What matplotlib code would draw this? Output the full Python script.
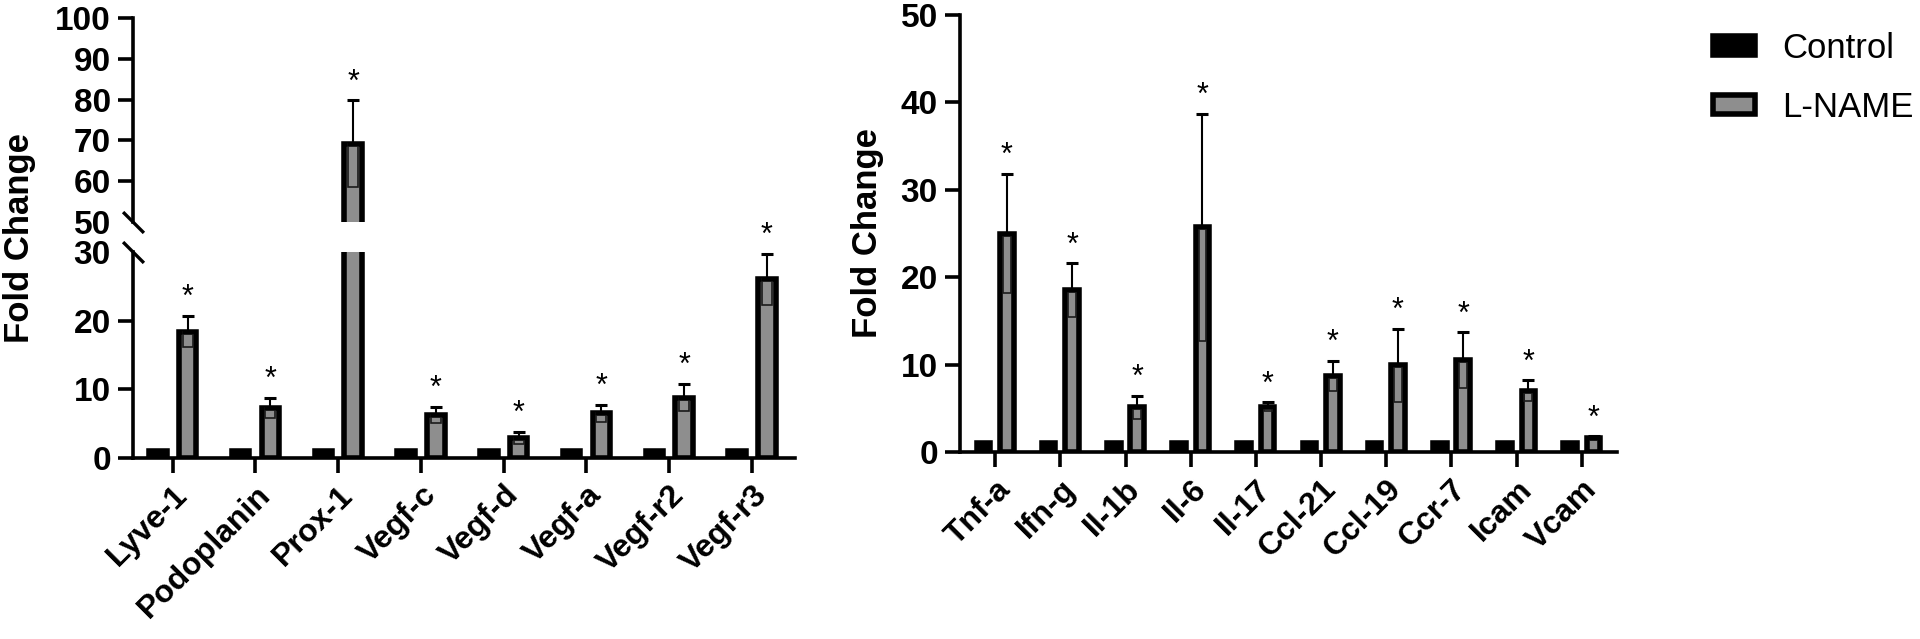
import matplotlib.pyplot as plt
import numpy as np
from matplotlib.patches import Patch

plt.rcParams['font.family'] = ['Liberation Sans', 'DejaVu Sans']

# Panel izquierdo (eje con corte 30-50)
genes_izq = ['Lyve-1', 'Podoplanin', 'Prox-1', 'Vegf-c', 'Vegf-d', 'Vegf-a', 'Vegf-r2', 'Vegf-r3']
control_izq = [1, 1, 1, 1, 1, 1, 1, 1]
lname_izq = [18.4, 7.3, 69.2, 6.3, 2.9, 6.5, 8.8, 26.0]
sd_izq = [2.3, 1.5, 10.6, 1.2, 0.9, 1.2, 2.0, 3.7]

# Panel derecho
genes_der = ['Tnf-a', 'Ifn-g', 'Il-1b', 'Il-6', 'Il-17', 'Ccl-21', 'Ccl-19', 'Ccr-7', 'Icam', 'Vcam']
control_der = [1, 1, 1, 1, 1, 1, 1, 1, 1, 1]
lname_der = [25.0, 18.5, 5.1, 25.7, 5.2, 8.7, 9.9, 10.5, 7.0, 1.6]
sd_der = [6.8, 3.1, 1.3, 13.0, 0.5, 1.7, 4.2, 3.2, 1.2, 0.2]

GRIS = '#8e8e8e'
LW_BAR = 4
LW_AX = 2.6
W = 0.21
OFF = 0.18


def barras(ax, genes, control, lname, sd):
    x = np.arange(len(genes))
    lname = np.array(lname)
    sd = np.array(sd)
    ax.bar(x - OFF, control, W, color='black', edgecolor='black', lw=LW_BAR, joinstyle='miter')
    ax.bar(x + OFF, lname, W, color=GRIS, edgecolor='black', lw=LW_BAR, joinstyle='miter')
    # parte inferior del error (dentro de la barra)
    ax.bar(x + OFF, sd, 0.12, bottom=lname - sd, fill=False, edgecolor='#1a1a1a', lw=1.2)
    ax.errorbar(x + OFF, lname, yerr=[np.zeros_like(sd), sd], fmt='none', ecolor='black',
                elinewidth=1.5, capsize=4.5, capthick=2.2)
    for xi, m, s in zip(x + OFF, lname, sd):
        ax.annotate('*', (xi, m + s), xytext=(0, 7), textcoords='offset points',
                    ha='center', va='baseline', fontsize=22)


def estilo(ax):
    for s in ['top', 'right']:
        ax.spines[s].set_visible(False)
    for s in ['left', 'bottom']:
        ax.spines[s].set_linewidth(LW_AX)
    ax.tick_params(direction='out', length=11, width=LW_AX, labelsize=23, pad=5)
    ax.tick_params(axis='y', labelsize=24)
    for lab in ax.get_yticklabels():
        lab.set_fontweight('bold')


fig = plt.figure(figsize=(19.2, 6.39), dpi=100)
ax_hi = fig.add_axes([133 / 1920, 1 - 222 / 639, 662 / 1920, 204 / 639])
ax_lo = fig.add_axes([133 / 1920, 1 - 458 / 639, 662 / 1920, 206 / 639])
ax_der = fig.add_axes([960 / 1920, 1 - 452 / 639, 657 / 1920, 437 / 639])

for ax in (ax_hi, ax_lo):
    barras(ax, genes_izq, control_izq, lname_izq, sd_izq)
    ax.set_xlim(-0.48, len(genes_izq) - 0.48)

ax_hi.set_ylim(50, 100)
ax_hi.set_yticks(np.arange(50, 101, 10))
estilo(ax_hi)
ax_hi.spines['bottom'].set_visible(False)
ax_hi.tick_params(axis='x', bottom=False, labelbottom=False)
ax_hi.yaxis.get_major_ticks()[0].tick1line.set_visible(False)

ax_lo.set_ylim(0, 30)
ax_lo.set_yticks([0, 10, 20, 30])
ax_lo.set_xticks(np.arange(len(genes_izq)), genes_izq, rotation=45, ha='right',
                 rotation_mode='anchor', fontweight='bold')
estilo(ax_lo)
ax_lo.yaxis.get_major_ticks()[-1].tick1line.set_visible(False)

# marcas del corte del eje
corte = dict(marker=[(-1, 1), (1, -1)], ms=15, mew=2.4, color='black', clip_on=False)
ax_hi.plot([0], [0], transform=ax_hi.transAxes, **corte)
ax_lo.plot([0], [1], transform=ax_lo.transAxes, **corte)

barras(ax_der, genes_der, control_der, lname_der, sd_der)
ax_der.set_xlim(-0.54, len(genes_der) - 0.46)
ax_der.set_ylim(0, 50)
ax_der.set_yticks(np.arange(0, 51, 10))
ax_der.set_xticks(np.arange(len(genes_der)), genes_der, rotation=45, ha='right',
                  rotation_mode='anchor', fontweight='bold')
estilo(ax_der)

fig.text(20 / 1920, 1 - 238 / 639, 'Fold Change', rotation=90, ha='center', va='center',
         fontsize=25, fontweight='bold')
fig.text(868 / 1920, 1 - 233 / 639, 'Fold Change', rotation=90, ha='center', va='center',
         fontsize=25, fontweight='bold')

handles = [Patch(facecolor='black', edgecolor='black', lw=LW_BAR, label='Control'),
           Patch(facecolor=GRIS, edgecolor='black', lw=LW_BAR, label='L-NAME')]
fig.legend(handles=handles, loc='upper left', bbox_to_anchor=(1713 / 1920, 1 - 32 / 639),
           frameon=False, fontsize=25, handlelength=1.2, handleheight=0.47,
           handletextpad=0.8, labelspacing=0.75, borderpad=0, borderaxespad=0)

fig.savefig('out.png', dpi=100)
